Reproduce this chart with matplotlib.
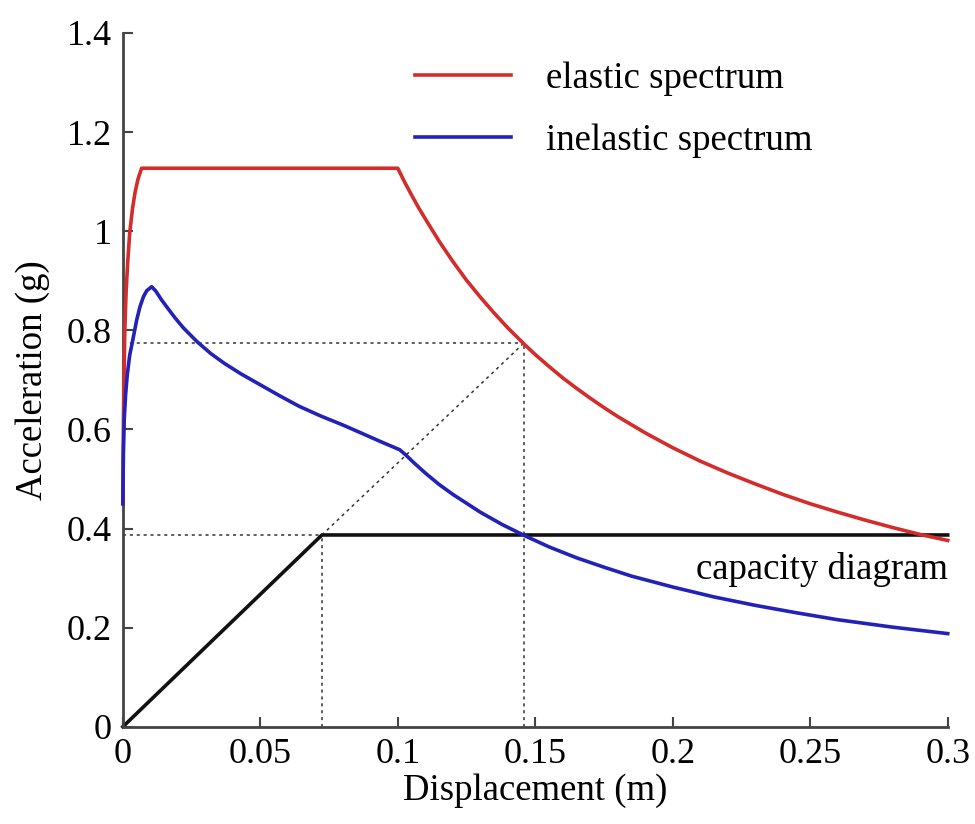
import matplotlib
matplotlib.use("Agg")
import matplotlib.pyplot as plt

plt.rcParams['font.family'] = ['Liberation Serif', 'DejaVu Serif']

# Elastic spectrum (Sd [m], Sa [g])
elastic_sd = [0.0, 0.0001, 0.0003, 0.0007, 0.0012, 0.0018, 0.0025, 0.0035,
              0.0044, 0.0055, 0.0068, 0.1,
              0.1025, 0.105, 0.1075, 0.11, 0.115, 0.12, 0.125, 0.13, 0.135,
              0.14, 0.146, 0.15, 0.155, 0.16, 0.165, 0.17, 0.175, 0.18, 0.19,
              0.2, 0.21, 0.22, 0.23, 0.24, 0.25, 0.26, 0.27, 0.28, 0.29, 0.3]
elastic_sa = [0.45, 0.55, 0.66, 0.80, 0.88, 0.94, 0.997, 1.045,
              1.077, 1.105, 1.127, 1.127,
              1.099, 1.073, 1.048, 1.025, 0.980, 0.939, 0.901, 0.867, 0.835,
              0.805, 0.772, 0.751, 0.727, 0.704, 0.683, 0.663, 0.644, 0.626, 0.593,
              0.563, 0.536, 0.512, 0.490, 0.469, 0.450, 0.433, 0.417, 0.402, 0.388, 0.376]

# Inelastic spectrum
inelastic_sd = [0.0, 0.0002, 0.0005, 0.001, 0.0016, 0.0025, 0.0036, 0.005,
                0.0062, 0.0075, 0.0087, 0.0105, 0.012, 0.014, 0.016, 0.019,
                0.022, 0.027, 0.032, 0.037, 0.043, 0.05, 0.057, 0.064, 0.072,
                0.08, 0.087, 0.0935, 0.1007, 0.103, 0.106, 0.11, 0.115, 0.12,
                0.125, 0.13, 0.138, 0.146, 0.155, 0.165, 0.175, 0.185, 0.2,
                0.215, 0.23, 0.245, 0.26, 0.28, 0.3]
inelastic_sa = [0.45, 0.55, 0.62, 0.67, 0.71, 0.75, 0.78, 0.82,
                0.847, 0.868, 0.88, 0.888, 0.879, 0.862, 0.847, 0.825,
                0.805, 0.777, 0.753, 0.733, 0.712, 0.690, 0.668, 0.647, 0.627,
                0.609, 0.592, 0.576, 0.559, 0.548, 0.532, 0.512, 0.489, 0.469,
                0.451, 0.433, 0.408, 0.386, 0.363, 0.341, 0.322, 0.304, 0.282,
                0.262, 0.245, 0.230, 0.216, 0.201, 0.188]

# Capacity diagram
capacity_sd = [0.0, 0.0724, 0.3]
capacity_sa = [0.0, 0.387, 0.387]

# Performance-point construction
knee = (0.0724, 0.387)
elastic_pt = (0.146, 0.775)

xticks = [0, 0.05, 0.1, 0.15, 0.2, 0.25, 0.3]
xticklabels = ['0', '0.05', '0.1', '0.15', '0.2', '0.25', '0.3']
yticks = [0, 0.2, 0.4, 0.6, 0.8, 1.0, 1.2, 1.4]
yticklabels = ['0', '0.2', '0.4', '0.6', '0.8', '1', '1.2', '1.4']

fig = plt.figure(figsize=(9.75, 8.24), dpi=100)
ax = fig.add_axes([0.126, 0.118, 0.846, 0.842])

red = '#d42b2b'
blue = '#2222b8'

dot = dict(color='#333333', lw=1.1, ls=(0, (2, 2.5)), zorder=1)
ax.plot([0, knee[0]], [knee[1], knee[1]], **dot)
ax.plot([knee[0], knee[0]], [0, knee[1]], **dot)
ax.plot([0, elastic_pt[0]], [elastic_pt[1], elastic_pt[1]], **dot)
ax.plot([elastic_pt[0], elastic_pt[0]], [0, elastic_pt[1]], **dot)
ax.plot([knee[0], elastic_pt[0]], [knee[1], elastic_pt[1]], **dot)

ax.plot(elastic_sd, elastic_sa, color=red, lw=2.6, label='elastic spectrum',
        clip_on=False, zorder=3)
ax.plot(inelastic_sd, inelastic_sa, color=blue, lw=2.6, label='inelastic spectrum',
        clip_on=False, zorder=3)
ax.plot(capacity_sd, capacity_sa, color='#111111', lw=2.6, clip_on=False, zorder=2)

ax.text(0.3, 0.317, 'capacity diagram', ha='right', va='center', fontsize=26.5)

ax.set_xlim(0, 0.3)
ax.set_ylim(0, 1.4)
ax.set_xticks(xticks)
ax.set_xticklabels(xticklabels)
ax.set_yticks(yticks)
ax.set_yticklabels(yticklabels)
ax.tick_params(direction='in', length=7, width=1.5, labelsize=26, pad=8,
               color='#444444')
for s in ['top', 'right']:
    ax.spines[s].set_visible(False)
for s in ['left', 'bottom']:
    ax.spines[s].set_color('#444444')
    ax.spines[s].set_linewidth(2)

ax.set_xlabel('Displacement (m)', fontsize=26.5, labelpad=2)
ax.set_ylabel('Acceleration (g)', fontsize=26.5, labelpad=12)

leg = ax.legend(loc='upper left', bbox_to_anchor=(0.354, 0.959), frameon=False,
                fontsize=26.5, handlelength=2.6, handletextpad=0.95,
                labelspacing=0.74, borderpad=0, borderaxespad=0)

fig.savefig('out.png', dpi=100)
